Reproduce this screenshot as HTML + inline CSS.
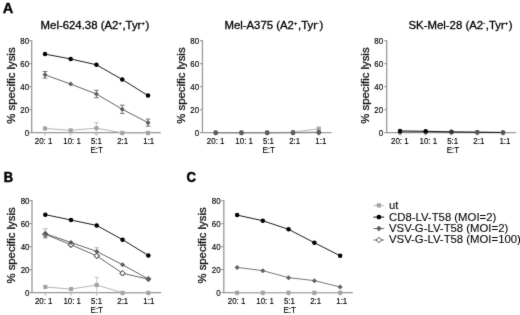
<!DOCTYPE html>
<html><head><meta charset="utf-8"><title>Figure</title>
<style>
html,body{margin:0;padding:0;background:#fff;}
body{width:520px;height:315px;overflow:hidden;font-family:"Liberation Sans",sans-serif;}
svg{display:block;font-family:"Liberation Sans",sans-serif;}
</style></head>
<body>
<svg width="520" height="315" viewBox="0 0 520 315">
<defs><filter id="soft" filterUnits="userSpaceOnUse" x="0" y="0" width="520" height="315" color-interpolation-filters="sRGB"><feConvolveMatrix order="3" kernelMatrix="1 5 1 5 48 5 1 5 1" divisor="72" edgeMode="duplicate" preserveAlpha="true"/></filter></defs>
<g filter="url(#soft)">
<rect width="520" height="315" fill="#fff"/>
<path d="M31.70 40.15 V132.65 H160.80" stroke="#999" stroke-width="1.3" fill="none"/>
<path d="M29.30 132.65 H31.70" stroke="#999" stroke-width="1.2"/>
<text transform="translate(29.20,135.55) scale(0.81,1)" font-size="9.8" text-anchor="end" font-weight="normal" fill="#000" stroke="#000" stroke-width="0.16" >0</text>
<path d="M29.30 109.65 H31.70" stroke="#999" stroke-width="1.2"/>
<text transform="translate(29.20,112.55) scale(0.81,1)" font-size="9.8" text-anchor="end" font-weight="normal" fill="#000" stroke="#000" stroke-width="0.16" >20</text>
<path d="M29.30 86.65 H31.70" stroke="#999" stroke-width="1.2"/>
<text transform="translate(29.20,89.55) scale(0.81,1)" font-size="9.8" text-anchor="end" font-weight="normal" fill="#000" stroke="#000" stroke-width="0.16" >40</text>
<path d="M29.30 63.65 H31.70" stroke="#999" stroke-width="1.2"/>
<text transform="translate(29.20,66.55) scale(0.81,1)" font-size="9.8" text-anchor="end" font-weight="normal" fill="#000" stroke="#000" stroke-width="0.16" >60</text>
<path d="M29.30 40.65 H31.70" stroke="#999" stroke-width="1.2"/>
<text transform="translate(29.20,43.55) scale(0.81,1)" font-size="9.8" text-anchor="end" font-weight="normal" fill="#000" stroke="#000" stroke-width="0.16" >80</text>
<path d="M45.00 132.65 V135.65" stroke="#b0b0b0" stroke-width="1"/>
<text transform="translate(43.60,143.65) scale(0.81,1)" font-size="9.8" text-anchor="middle" font-weight="normal" fill="#000" stroke="#000" stroke-width="0.16" >20: 1</text>
<path d="M70.70 132.65 V135.65" stroke="#b0b0b0" stroke-width="1"/>
<text transform="translate(72.10,143.65) scale(0.81,1)" font-size="9.8" text-anchor="middle" font-weight="normal" fill="#000" stroke="#000" stroke-width="0.16" >10: 1</text>
<path d="M96.45 132.65 V135.65" stroke="#b0b0b0" stroke-width="1"/>
<text transform="translate(96.45,143.65) scale(0.81,1)" font-size="9.8" text-anchor="middle" font-weight="normal" fill="#000" stroke="#000" stroke-width="0.16" >5:1</text>
<path d="M122.25 132.65 V135.65" stroke="#b0b0b0" stroke-width="1"/>
<text transform="translate(122.65,143.65) scale(0.81,1)" font-size="9.8" text-anchor="middle" font-weight="normal" fill="#000" stroke="#000" stroke-width="0.16" >2:1</text>
<path d="M148.05 132.65 V135.65" stroke="#b0b0b0" stroke-width="1"/>
<text transform="translate(148.75,143.65) scale(0.81,1)" font-size="9.8" text-anchor="middle" font-weight="normal" fill="#000" stroke="#000" stroke-width="0.16" >1:1</text>
<text transform="translate(96.65,152.55) scale(0.81,1)" font-size="9.8" text-anchor="middle" font-weight="normal" fill="#000" stroke="#000" stroke-width="0.16" >E:T</text>
<text transform="translate(14.60,85.55) rotate(-90) scale(1.07,1)" font-size="10.6" text-anchor="middle" fill="#111" stroke="#111" stroke-width="0.28">% specific lysis</text>
<text transform="translate(40.60,28.50) scale(1.106,1)" font-size="10.3" text-anchor="start" font-weight="normal" fill="#000" stroke="#000" stroke-width="0.28" >Mel-624.38 (A2<tspan dy="-3.6" dx="0.1" font-size="5.2">+</tspan><tspan dy="3.6" dx="0.55">,Tyr</tspan><tspan dy="-3.6" dx="0.1" font-size="5.2">+</tspan><tspan dy="3.6" dx="0.55">)</tspan></text>
<polyline points="45.00,128.51 70.70,130.35 96.45,128.17 122.25,132.88 148.05,132.88" fill="none" stroke="#b4b4b4" stroke-width="1.0"/>
<path d="M96.45 122.65 V134.15 M94.15 122.65 H98.75 M94.15 134.15 H98.75" stroke="#bdbdbd" stroke-width="0.9" fill="none"/>
<rect x="42.95" y="126.46" width="4.10" height="4.10" fill="#a2a2a2"/>
<rect x="68.65" y="128.30" width="4.10" height="4.10" fill="#a2a2a2"/>
<rect x="94.40" y="126.12" width="4.10" height="4.10" fill="#a2a2a2"/>
<rect x="120.20" y="130.83" width="4.10" height="4.10" fill="#a2a2a2"/>
<rect x="146.00" y="130.83" width="4.10" height="4.10" fill="#a2a2a2"/>
<polyline points="45.00,74.81 70.70,84.12 96.45,94.01 122.25,109.31 148.05,122.65" fill="none" stroke="#666" stroke-width="1.0"/>
<path d="M45.00 71.47 V78.14 M42.70 71.47 H47.30 M42.70 78.14 H47.30" stroke="#666" stroke-width="0.9" fill="none"/>
<path d="M96.45 90.33 V97.69 M94.15 90.33 H98.75 M94.15 97.69 H98.75" stroke="#666" stroke-width="0.9" fill="none"/>
<path d="M122.25 105.17 V113.45 M119.95 105.17 H124.55 M119.95 113.45 H124.55" stroke="#666" stroke-width="0.9" fill="none"/>
<path d="M148.05 119.08 V126.21 M145.75 119.08 H150.35 M145.75 126.21 H150.35" stroke="#666" stroke-width="0.9" fill="none"/>
<path d="M45.00 72.31 L47.50 74.81 L45.00 77.31 L42.50 74.81 Z" fill="#5e5e5e" stroke="none" stroke-width="0"/>
<path d="M70.70 81.62 L73.20 84.12 L70.70 86.62 L68.20 84.12 Z" fill="#5e5e5e" stroke="none" stroke-width="0"/>
<path d="M96.45 91.51 L98.95 94.01 L96.45 96.51 L93.95 94.01 Z" fill="#5e5e5e" stroke="none" stroke-width="0"/>
<path d="M122.25 106.81 L124.75 109.31 L122.25 111.81 L119.75 109.31 Z" fill="#5e5e5e" stroke="none" stroke-width="0"/>
<path d="M148.05 120.15 L150.55 122.65 L148.05 125.15 L145.55 122.65 Z" fill="#5e5e5e" stroke="none" stroke-width="0"/>
<polyline points="45.00,54.11 70.70,58.94 96.45,64.80 122.25,79.52 148.05,95.62" fill="none" stroke="#111" stroke-width="0.95"/>
<circle cx="45.00" cy="54.11" r="2.25" fill="#000"/>
<circle cx="70.70" cy="58.94" r="2.25" fill="#000"/>
<circle cx="96.45" cy="64.80" r="2.25" fill="#000"/>
<circle cx="122.25" cy="79.52" r="2.25" fill="#000"/>
<circle cx="148.05" cy="95.62" r="2.25" fill="#000"/>
<path d="M202.45 40.15 V132.65 H331.55" stroke="#999" stroke-width="1.3" fill="none"/>
<path d="M200.05 132.65 H202.45" stroke="#999" stroke-width="1.2"/>
<text transform="translate(199.15,135.55) scale(0.81,1)" font-size="9.8" text-anchor="end" font-weight="normal" fill="#000" stroke="#000" stroke-width="0.16" >0</text>
<path d="M200.05 109.65 H202.45" stroke="#999" stroke-width="1.2"/>
<text transform="translate(199.15,112.55) scale(0.81,1)" font-size="9.8" text-anchor="end" font-weight="normal" fill="#000" stroke="#000" stroke-width="0.16" >20</text>
<path d="M200.05 86.65 H202.45" stroke="#999" stroke-width="1.2"/>
<text transform="translate(199.15,89.55) scale(0.81,1)" font-size="9.8" text-anchor="end" font-weight="normal" fill="#000" stroke="#000" stroke-width="0.16" >40</text>
<path d="M200.05 63.65 H202.45" stroke="#999" stroke-width="1.2"/>
<text transform="translate(199.15,66.55) scale(0.81,1)" font-size="9.8" text-anchor="end" font-weight="normal" fill="#000" stroke="#000" stroke-width="0.16" >60</text>
<path d="M200.05 40.65 H202.45" stroke="#999" stroke-width="1.2"/>
<text transform="translate(199.15,43.55) scale(0.81,1)" font-size="9.8" text-anchor="end" font-weight="normal" fill="#000" stroke="#000" stroke-width="0.16" >80</text>
<path d="M215.75 132.65 V135.65" stroke="#b0b0b0" stroke-width="1"/>
<text transform="translate(215.65,143.65) scale(0.81,1)" font-size="9.8" text-anchor="middle" font-weight="normal" fill="#000" stroke="#000" stroke-width="0.16" >20: 1</text>
<path d="M241.45 132.65 V135.65" stroke="#b0b0b0" stroke-width="1"/>
<text transform="translate(244.15,143.65) scale(0.81,1)" font-size="9.8" text-anchor="middle" font-weight="normal" fill="#000" stroke="#000" stroke-width="0.16" >10: 1</text>
<path d="M267.20 132.65 V135.65" stroke="#b0b0b0" stroke-width="1"/>
<text transform="translate(268.50,143.65) scale(0.81,1)" font-size="9.8" text-anchor="middle" font-weight="normal" fill="#000" stroke="#000" stroke-width="0.16" >5:1</text>
<path d="M293.00 132.65 V135.65" stroke="#b0b0b0" stroke-width="1"/>
<text transform="translate(294.70,143.65) scale(0.81,1)" font-size="9.8" text-anchor="middle" font-weight="normal" fill="#000" stroke="#000" stroke-width="0.16" >2:1</text>
<path d="M318.80 132.65 V135.65" stroke="#b0b0b0" stroke-width="1"/>
<text transform="translate(320.80,143.65) scale(0.81,1)" font-size="9.8" text-anchor="middle" font-weight="normal" fill="#000" stroke="#000" stroke-width="0.16" >1:1</text>
<text transform="translate(268.70,152.55) scale(0.81,1)" font-size="9.8" text-anchor="middle" font-weight="normal" fill="#000" stroke="#000" stroke-width="0.16" >E:T</text>
<text transform="translate(184.65,85.55) rotate(-90) scale(1.07,1)" font-size="10.6" text-anchor="middle" fill="#111" stroke="#111" stroke-width="0.28">% specific lysis</text>
<text transform="translate(224.40,28.50) scale(1.106,1)" font-size="10.3" text-anchor="start" font-weight="normal" fill="#000" stroke="#000" stroke-width="0.28" >Mel-A375 (A2<tspan dy="-3.6" dx="0.1" font-size="5.2">+</tspan><tspan dy="3.6" dx="0.55">,Tyr</tspan><tspan dy="-3.6" dx="0.1" font-size="5.2">-</tspan><tspan dy="3.6" dx="0.55">)</tspan></text>
<polyline points="215.75,132.65 241.45,132.65 267.20,132.65 293.00,132.19 318.80,128.74" fill="none" stroke="#b4b4b4" stroke-width="1.0"/>
<rect x="213.70" y="130.60" width="4.10" height="4.10" fill="#a2a2a2"/>
<rect x="239.40" y="130.60" width="4.10" height="4.10" fill="#a2a2a2"/>
<rect x="265.15" y="130.60" width="4.10" height="4.10" fill="#a2a2a2"/>
<rect x="290.95" y="130.14" width="4.10" height="4.10" fill="#a2a2a2"/>
<rect x="316.75" y="126.69" width="4.10" height="4.10" fill="#a2a2a2"/>
<polyline points="215.75,132.65 241.45,132.65 267.20,132.65 293.00,132.65 318.80,132.42" fill="none" stroke="#888" stroke-width="1.0"/>
<circle cx="215.75" cy="132.65" r="2.25" fill="#333"/>
<circle cx="241.45" cy="132.65" r="2.25" fill="#333"/>
<circle cx="267.20" cy="132.65" r="2.25" fill="#333"/>
<circle cx="293.00" cy="132.65" r="2.25" fill="#333"/>
<circle cx="318.80" cy="132.42" r="2.25" fill="#333"/>
<polyline points="215.75,132.77 241.45,132.77 267.20,132.77 293.00,132.53 318.80,132.19" fill="none" stroke="#8a8a8a" stroke-width="1.0"/>
<path d="M215.75 130.27 L218.25 132.77 L215.75 135.27 L213.25 132.77 Z" fill="#5e5e5e" stroke="none" stroke-width="0"/>
<path d="M241.45 130.27 L243.95 132.77 L241.45 135.27 L238.95 132.77 Z" fill="#5e5e5e" stroke="none" stroke-width="0"/>
<path d="M267.20 130.27 L269.70 132.77 L267.20 135.27 L264.70 132.77 Z" fill="#5e5e5e" stroke="none" stroke-width="0"/>
<path d="M293.00 130.03 L295.50 132.53 L293.00 135.03 L290.50 132.53 Z" fill="#5e5e5e" stroke="none" stroke-width="0"/>
<path d="M318.80 129.69 L321.30 132.19 L318.80 134.69 L316.30 132.19 Z" fill="#5e5e5e" stroke="none" stroke-width="0"/>
<path d="M386.70 40.15 V132.65 H515.80" stroke="#999" stroke-width="1.3" fill="none"/>
<path d="M384.30 132.65 H386.70" stroke="#999" stroke-width="1.2"/>
<text transform="translate(383.20,135.55) scale(0.81,1)" font-size="9.8" text-anchor="end" font-weight="normal" fill="#000" stroke="#000" stroke-width="0.16" >0</text>
<path d="M384.30 109.65 H386.70" stroke="#999" stroke-width="1.2"/>
<text transform="translate(383.20,112.55) scale(0.81,1)" font-size="9.8" text-anchor="end" font-weight="normal" fill="#000" stroke="#000" stroke-width="0.16" >20</text>
<path d="M384.30 86.65 H386.70" stroke="#999" stroke-width="1.2"/>
<text transform="translate(383.20,89.55) scale(0.81,1)" font-size="9.8" text-anchor="end" font-weight="normal" fill="#000" stroke="#000" stroke-width="0.16" >40</text>
<path d="M384.30 63.65 H386.70" stroke="#999" stroke-width="1.2"/>
<text transform="translate(383.20,66.55) scale(0.81,1)" font-size="9.8" text-anchor="end" font-weight="normal" fill="#000" stroke="#000" stroke-width="0.16" >60</text>
<path d="M384.30 40.65 H386.70" stroke="#999" stroke-width="1.2"/>
<text transform="translate(383.20,43.55) scale(0.81,1)" font-size="9.8" text-anchor="end" font-weight="normal" fill="#000" stroke="#000" stroke-width="0.16" >80</text>
<path d="M400.00 132.65 V135.65" stroke="#b0b0b0" stroke-width="1"/>
<text transform="translate(399.80,143.65) scale(0.81,1)" font-size="9.8" text-anchor="middle" font-weight="normal" fill="#000" stroke="#000" stroke-width="0.16" >20: 1</text>
<path d="M425.70 132.65 V135.65" stroke="#b0b0b0" stroke-width="1"/>
<text transform="translate(428.30,143.65) scale(0.81,1)" font-size="9.8" text-anchor="middle" font-weight="normal" fill="#000" stroke="#000" stroke-width="0.16" >10: 1</text>
<path d="M451.45 132.65 V135.65" stroke="#b0b0b0" stroke-width="1"/>
<text transform="translate(452.65,143.65) scale(0.81,1)" font-size="9.8" text-anchor="middle" font-weight="normal" fill="#000" stroke="#000" stroke-width="0.16" >5:1</text>
<path d="M477.25 132.65 V135.65" stroke="#b0b0b0" stroke-width="1"/>
<text transform="translate(478.85,143.65) scale(0.81,1)" font-size="9.8" text-anchor="middle" font-weight="normal" fill="#000" stroke="#000" stroke-width="0.16" >2:1</text>
<path d="M503.05 132.65 V135.65" stroke="#b0b0b0" stroke-width="1"/>
<text transform="translate(504.95,143.65) scale(0.81,1)" font-size="9.8" text-anchor="middle" font-weight="normal" fill="#000" stroke="#000" stroke-width="0.16" >1:1</text>
<text transform="translate(452.85,152.55) scale(0.81,1)" font-size="9.8" text-anchor="middle" font-weight="normal" fill="#000" stroke="#000" stroke-width="0.16" >E:T</text>
<text transform="translate(368.50,85.55) rotate(-90) scale(1.07,1)" font-size="10.6" text-anchor="middle" fill="#111" stroke="#111" stroke-width="0.28">% specific lysis</text>
<text transform="translate(408.50,28.50) scale(1.106,1)" font-size="10.3" text-anchor="start" font-weight="normal" fill="#000" stroke="#000" stroke-width="0.28" >SK-Mel-28 (A2<tspan dy="-3.6" dx="0.1" font-size="5.2">-</tspan><tspan dy="3.6" dx="0.55">,Tyr</tspan><tspan dy="-3.6" dx="0.1" font-size="5.2">+</tspan><tspan dy="3.6" dx="0.55">)</tspan></text>
<polyline points="400.00,132.31 425.70,132.31 451.45,132.42 477.25,132.53 503.05,132.65" fill="none" stroke="#b4b4b4" stroke-width="1.0"/>
<rect x="397.95" y="130.25" width="4.10" height="4.10" fill="#a2a2a2"/>
<rect x="423.65" y="130.25" width="4.10" height="4.10" fill="#a2a2a2"/>
<rect x="449.40" y="130.37" width="4.10" height="4.10" fill="#a2a2a2"/>
<rect x="475.20" y="130.48" width="4.10" height="4.10" fill="#a2a2a2"/>
<rect x="501.00" y="130.60" width="4.10" height="4.10" fill="#a2a2a2"/>
<polyline points="400.00,132.19 425.70,132.08 451.45,132.31 477.25,132.31 503.05,132.53" fill="none" stroke="#666" stroke-width="1.0"/>
<path d="M400.00 129.69 L402.50 132.19 L400.00 134.69 L397.50 132.19 Z" fill="#5e5e5e" stroke="none" stroke-width="0"/>
<path d="M425.70 129.58 L428.20 132.08 L425.70 134.58 L423.20 132.08 Z" fill="#5e5e5e" stroke="none" stroke-width="0"/>
<path d="M451.45 129.81 L453.95 132.31 L451.45 134.81 L448.95 132.31 Z" fill="#5e5e5e" stroke="none" stroke-width="0"/>
<path d="M477.25 129.81 L479.75 132.31 L477.25 134.81 L474.75 132.31 Z" fill="#5e5e5e" stroke="none" stroke-width="0"/>
<path d="M503.05 130.03 L505.55 132.53 L503.05 135.03 L500.55 132.53 Z" fill="#5e5e5e" stroke="none" stroke-width="0"/>
<polyline points="400.00,130.93 425.70,131.27 451.45,131.84 477.25,132.19 503.05,132.42" fill="none" stroke="#111" stroke-width="0.95"/>
<circle cx="400.00" cy="130.93" r="2.25" fill="#000"/>
<circle cx="425.70" cy="131.27" r="2.25" fill="#000"/>
<circle cx="451.45" cy="131.84" r="2.25" fill="#333"/>
<circle cx="477.25" cy="132.19" r="2.25" fill="#555"/>
<circle cx="503.05" cy="132.42" r="2.25" fill="#555"/>
<path d="M32.00 200.10 V292.60 H161.10" stroke="#999" stroke-width="1.3" fill="none"/>
<path d="M29.60 292.60 H32.00" stroke="#999" stroke-width="1.2"/>
<text transform="translate(29.50,295.50) scale(0.81,1)" font-size="9.8" text-anchor="end" font-weight="normal" fill="#000" stroke="#000" stroke-width="0.16" >0</text>
<path d="M29.60 269.60 H32.00" stroke="#999" stroke-width="1.2"/>
<text transform="translate(29.50,272.50) scale(0.81,1)" font-size="9.8" text-anchor="end" font-weight="normal" fill="#000" stroke="#000" stroke-width="0.16" >20</text>
<path d="M29.60 246.60 H32.00" stroke="#999" stroke-width="1.2"/>
<text transform="translate(29.50,249.50) scale(0.81,1)" font-size="9.8" text-anchor="end" font-weight="normal" fill="#000" stroke="#000" stroke-width="0.16" >40</text>
<path d="M29.60 223.60 H32.00" stroke="#999" stroke-width="1.2"/>
<text transform="translate(29.50,226.50) scale(0.81,1)" font-size="9.8" text-anchor="end" font-weight="normal" fill="#000" stroke="#000" stroke-width="0.16" >60</text>
<path d="M29.60 200.60 H32.00" stroke="#999" stroke-width="1.2"/>
<text transform="translate(29.50,203.50) scale(0.81,1)" font-size="9.8" text-anchor="end" font-weight="normal" fill="#000" stroke="#000" stroke-width="0.16" >80</text>
<path d="M45.30 292.60 V295.60" stroke="#b0b0b0" stroke-width="1"/>
<text transform="translate(43.70,303.60) scale(0.81,1)" font-size="9.8" text-anchor="middle" font-weight="normal" fill="#000" stroke="#000" stroke-width="0.16" >20: 1</text>
<path d="M71.00 292.60 V295.60" stroke="#b0b0b0" stroke-width="1"/>
<text transform="translate(72.20,303.60) scale(0.81,1)" font-size="9.8" text-anchor="middle" font-weight="normal" fill="#000" stroke="#000" stroke-width="0.16" >10: 1</text>
<path d="M96.75 292.60 V295.60" stroke="#b0b0b0" stroke-width="1"/>
<text transform="translate(96.55,303.60) scale(0.81,1)" font-size="9.8" text-anchor="middle" font-weight="normal" fill="#000" stroke="#000" stroke-width="0.16" >5:1</text>
<path d="M122.55 292.60 V295.60" stroke="#b0b0b0" stroke-width="1"/>
<text transform="translate(122.75,303.60) scale(0.81,1)" font-size="9.8" text-anchor="middle" font-weight="normal" fill="#000" stroke="#000" stroke-width="0.16" >2:1</text>
<path d="M148.35 292.60 V295.60" stroke="#b0b0b0" stroke-width="1"/>
<text transform="translate(148.85,303.60) scale(0.81,1)" font-size="9.8" text-anchor="middle" font-weight="normal" fill="#000" stroke="#000" stroke-width="0.16" >1:1</text>
<text transform="translate(96.75,312.50) scale(0.81,1)" font-size="9.8" text-anchor="middle" font-weight="normal" fill="#000" stroke="#000" stroke-width="0.16" >E:T</text>
<text transform="translate(14.70,245.50) rotate(-90) scale(1.07,1)" font-size="10.6" text-anchor="middle" fill="#111" stroke="#111" stroke-width="0.28">% specific lysis</text>
<polyline points="45.30,286.97 71.00,289.04 96.75,285.01 122.55,292.83 148.35,292.83" fill="none" stroke="#b4b4b4" stroke-width="1.0"/>
<path d="M96.75 277.31 V292.72 M94.45 277.31 H99.05 M94.45 292.72 H99.05" stroke="#bdbdbd" stroke-width="0.9" fill="none"/>
<rect x="43.25" y="284.92" width="4.10" height="4.10" fill="#a2a2a2"/>
<rect x="68.95" y="286.99" width="4.10" height="4.10" fill="#a2a2a2"/>
<rect x="94.70" y="282.96" width="4.10" height="4.10" fill="#a2a2a2"/>
<rect x="120.50" y="290.78" width="4.10" height="4.10" fill="#a2a2a2"/>
<rect x="146.30" y="290.78" width="4.10" height="4.10" fill="#a2a2a2"/>
<polyline points="45.30,234.30 71.00,244.76 96.75,255.92 122.55,273.28 148.35,279.15" fill="none" stroke="#666" stroke-width="1.0"/>
<path d="M45.30 234.30 V237.75 M43.00 237.75 H47.60" stroke="#666" stroke-width="0.9" fill="none"/>
<path d="M45.30 231.60 L48.00 234.30 L45.30 237.00 L42.60 234.30 Z" fill="#fff" stroke="#484848" stroke-width="0.95"/>
<path d="M71.00 242.06 L73.70 244.76 L71.00 247.46 L68.30 244.76 Z" fill="#fff" stroke="#484848" stroke-width="0.95"/>
<path d="M96.75 253.22 L99.45 255.92 L96.75 258.62 L94.05 255.92 Z" fill="#fff" stroke="#484848" stroke-width="0.95"/>
<path d="M122.55 270.58 L125.25 273.28 L122.55 275.98 L119.85 273.28 Z" fill="#fff" stroke="#484848" stroke-width="0.95"/>
<polyline points="45.30,233.61 71.00,242.46 96.75,251.43 122.55,264.77 148.35,279.03" fill="none" stroke="#666" stroke-width="1.0"/>
<path d="M45.30 228.89 V233.61 M43.00 228.89 H47.60" stroke="#a8a8a8" stroke-width="0.9" fill="none"/>
<path d="M96.75 247.75 V251.43 M94.45 247.75 H99.05" stroke="#a8a8a8" stroke-width="0.9" fill="none"/>
<path d="M45.30 231.11 L47.80 233.61 L45.30 236.11 L42.80 233.61 Z" fill="#5e5e5e" stroke="none" stroke-width="0"/>
<path d="M71.00 239.96 L73.50 242.46 L71.00 244.96 L68.50 242.46 Z" fill="#5e5e5e" stroke="none" stroke-width="0"/>
<path d="M96.75 248.93 L99.25 251.43 L96.75 253.93 L94.25 251.43 Z" fill="#5e5e5e" stroke="none" stroke-width="0"/>
<path d="M122.55 262.27 L125.05 264.77 L122.55 267.27 L120.05 264.77 Z" fill="#5e5e5e" stroke="none" stroke-width="0"/>
<path d="M148.35 276.53 L150.85 279.03 L148.35 281.53 L145.85 279.03 Z" fill="#5e5e5e" stroke="none" stroke-width="0"/>
<polyline points="45.30,234.30 71.00,244.76 96.75,255.92 122.55,273.28 148.35,279.26" fill="none" stroke="none" stroke-width="1.0"/>
<path d="M45.30 231.60 L48.00 234.30 L45.30 237.00 L42.60 234.30 Z" fill="none" stroke="#484848" stroke-width="0.95"/>
<path d="M71.00 242.06 L73.70 244.76 L71.00 247.46 L68.30 244.76 Z" fill="none" stroke="#484848" stroke-width="0.95"/>
<path d="M96.75 253.22 L99.45 255.92 L96.75 258.62 L94.05 255.92 Z" fill="none" stroke="#484848" stroke-width="0.95"/>
<path d="M122.55 270.58 L125.25 273.28 L122.55 275.98 L119.85 273.28 Z" fill="none" stroke="#484848" stroke-width="0.95"/>
<polyline points="45.30,214.63 71.00,220.04 96.75,225.44 122.55,239.70 148.35,255.46" fill="none" stroke="#111" stroke-width="0.95"/>
<circle cx="45.30" cy="214.63" r="2.25" fill="#000"/>
<circle cx="71.00" cy="220.04" r="2.25" fill="#000"/>
<circle cx="96.75" cy="225.44" r="2.25" fill="#000"/>
<circle cx="122.55" cy="239.70" r="2.25" fill="#000"/>
<circle cx="148.35" cy="255.46" r="2.25" fill="#000"/>
<path d="M148.35 275.93 L151.45 279.03 L148.35 282.13 L145.25 279.03 Z" fill="#5e5e5e" stroke="none" stroke-width="0"/>
<path d="M223.80 200.10 V292.60 H352.90" stroke="#999" stroke-width="1.3" fill="none"/>
<path d="M221.40 292.60 H223.80" stroke="#999" stroke-width="1.2"/>
<text transform="translate(220.60,295.50) scale(0.81,1)" font-size="9.8" text-anchor="end" font-weight="normal" fill="#000" stroke="#000" stroke-width="0.16" >0</text>
<path d="M221.40 269.60 H223.80" stroke="#999" stroke-width="1.2"/>
<text transform="translate(220.60,272.50) scale(0.81,1)" font-size="9.8" text-anchor="end" font-weight="normal" fill="#000" stroke="#000" stroke-width="0.16" >20</text>
<path d="M221.40 246.60 H223.80" stroke="#999" stroke-width="1.2"/>
<text transform="translate(220.60,249.50) scale(0.81,1)" font-size="9.8" text-anchor="end" font-weight="normal" fill="#000" stroke="#000" stroke-width="0.16" >40</text>
<path d="M221.40 223.60 H223.80" stroke="#999" stroke-width="1.2"/>
<text transform="translate(220.60,226.50) scale(0.81,1)" font-size="9.8" text-anchor="end" font-weight="normal" fill="#000" stroke="#000" stroke-width="0.16" >60</text>
<path d="M221.40 200.60 H223.80" stroke="#999" stroke-width="1.2"/>
<text transform="translate(220.60,203.50) scale(0.81,1)" font-size="9.8" text-anchor="end" font-weight="normal" fill="#000" stroke="#000" stroke-width="0.16" >80</text>
<path d="M237.10 292.60 V295.60" stroke="#b0b0b0" stroke-width="1"/>
<text transform="translate(236.60,303.60) scale(0.81,1)" font-size="9.8" text-anchor="middle" font-weight="normal" fill="#000" stroke="#000" stroke-width="0.16" >20: 1</text>
<path d="M262.80 292.60 V295.60" stroke="#b0b0b0" stroke-width="1"/>
<text transform="translate(265.10,303.60) scale(0.81,1)" font-size="9.8" text-anchor="middle" font-weight="normal" fill="#000" stroke="#000" stroke-width="0.16" >10: 1</text>
<path d="M288.55 292.60 V295.60" stroke="#b0b0b0" stroke-width="1"/>
<text transform="translate(289.45,303.60) scale(0.81,1)" font-size="9.8" text-anchor="middle" font-weight="normal" fill="#000" stroke="#000" stroke-width="0.16" >5:1</text>
<path d="M314.35 292.60 V295.60" stroke="#b0b0b0" stroke-width="1"/>
<text transform="translate(315.65,303.60) scale(0.81,1)" font-size="9.8" text-anchor="middle" font-weight="normal" fill="#000" stroke="#000" stroke-width="0.16" >2:1</text>
<path d="M340.15 292.60 V295.60" stroke="#b0b0b0" stroke-width="1"/>
<text transform="translate(341.75,303.60) scale(0.81,1)" font-size="9.8" text-anchor="middle" font-weight="normal" fill="#000" stroke="#000" stroke-width="0.16" >1:1</text>
<text transform="translate(289.65,312.50) scale(0.81,1)" font-size="9.8" text-anchor="middle" font-weight="normal" fill="#000" stroke="#000" stroke-width="0.16" >E:T</text>
<text transform="translate(205.80,245.50) rotate(-90) scale(1.07,1)" font-size="10.6" text-anchor="middle" fill="#111" stroke="#111" stroke-width="0.28">% specific lysis</text>
<polyline points="237.10,292.72 262.80,292.72 288.55,292.72 314.35,292.72 340.15,292.72" fill="none" stroke="#b4b4b4" stroke-width="1.0"/>
<rect x="235.05" y="290.67" width="4.10" height="4.10" fill="#a2a2a2"/>
<rect x="260.75" y="290.67" width="4.10" height="4.10" fill="#a2a2a2"/>
<rect x="286.50" y="290.67" width="4.10" height="4.10" fill="#a2a2a2"/>
<rect x="312.30" y="290.67" width="4.10" height="4.10" fill="#a2a2a2"/>
<rect x="338.10" y="290.67" width="4.10" height="4.10" fill="#a2a2a2"/>
<polyline points="237.10,267.42 262.80,270.64 288.55,277.65 314.35,280.64 340.15,286.97" fill="none" stroke="#787878" stroke-width="1.0"/>
<path d="M237.10 264.92 L239.60 267.42 L237.10 269.92 L234.60 267.42 Z" fill="#5e5e5e" stroke="none" stroke-width="0"/>
<path d="M262.80 268.14 L265.30 270.64 L262.80 273.14 L260.30 270.64 Z" fill="#5e5e5e" stroke="none" stroke-width="0"/>
<path d="M288.55 275.15 L291.05 277.65 L288.55 280.15 L286.05 277.65 Z" fill="#5e5e5e" stroke="none" stroke-width="0"/>
<path d="M314.35 278.14 L316.85 280.64 L314.35 283.14 L311.85 280.64 Z" fill="#5e5e5e" stroke="none" stroke-width="0"/>
<path d="M340.15 284.47 L342.65 286.97 L340.15 289.47 L337.65 286.97 Z" fill="#5e5e5e" stroke="none" stroke-width="0"/>
<polyline points="237.10,215.09 262.80,220.73 288.55,229.35 314.35,242.69 340.15,255.80" fill="none" stroke="#111" stroke-width="0.95"/>
<circle cx="237.10" cy="215.09" r="2.25" fill="#000"/>
<circle cx="262.80" cy="220.73" r="2.25" fill="#000"/>
<circle cx="288.55" cy="229.35" r="2.25" fill="#000"/>
<circle cx="314.35" cy="242.69" r="2.25" fill="#000"/>
<circle cx="340.15" cy="255.80" r="2.25" fill="#000"/>
<text transform="translate(2.80,13.40) scale(1.0,1)" font-size="14.6" text-anchor="start" font-weight="bold" fill="#000" stroke="#000" stroke-width="0.35" >A</text>
<text transform="translate(3.70,182.40) scale(0.885,1)" font-size="14.6" text-anchor="start" font-weight="bold" fill="#000" stroke="#000" stroke-width="0.55" >B</text>
<text transform="translate(186.60,182.20) scale(0.885,1)" font-size="14.8" text-anchor="start" font-weight="bold" fill="#000" stroke="#000" stroke-width="0.55" >C</text>
<path d="M373.50 205.40 H384.10" stroke="#b4b4b4" stroke-width="1"/>
<rect x="376.80" y="203.30" width="4.20" height="4.20" fill="#a2a2a2"/>
<text transform="translate(389.00,208.80) scale(1.124,1)" font-size="10.1" text-anchor="start" font-weight="normal" fill="#000" stroke="#000" stroke-width="0.08" >ut</text>
<path d="M373.50 217.10 H384.10" stroke="#111" stroke-width="1"/>
<circle cx="378.90" cy="217.10" r="2.35" fill="#000"/>
<text transform="translate(389.00,220.90) scale(1.124,1)" font-size="10.1" text-anchor="start" font-weight="normal" fill="#000" stroke="#000" stroke-width="0.08" >CD8-LV-T58 (MOI=2)</text>
<path d="M373.50 228.50 H384.10" stroke="#6a6a6a" stroke-width="1"/>
<path d="M378.90 225.65 L381.75 228.50 L378.90 231.35 L376.05 228.50 Z" fill="#5e5e5e" stroke="none" stroke-width="0"/>
<text transform="translate(389.00,231.90) scale(1.124,1)" font-size="10.1" text-anchor="start" font-weight="normal" fill="#000" stroke="#000" stroke-width="0.08" >VSV-G-LV-T58 (MOI=2)</text>
<path d="M373.50 240.00 H384.10" stroke="#6a6a6a" stroke-width="1"/>
<path d="M378.90 237.25 L381.65 240.00 L378.90 242.75 L376.15 240.00 Z" fill="#fff" stroke="#484848" stroke-width="1.0"/>
<text transform="translate(389.00,243.30) scale(1.124,1)" font-size="10.1" text-anchor="start" font-weight="normal" fill="#000" stroke="#000" stroke-width="0.08" >VSV-G-LV-T58 (MOI=100)</text>
</g>
</svg>
</body></html>
